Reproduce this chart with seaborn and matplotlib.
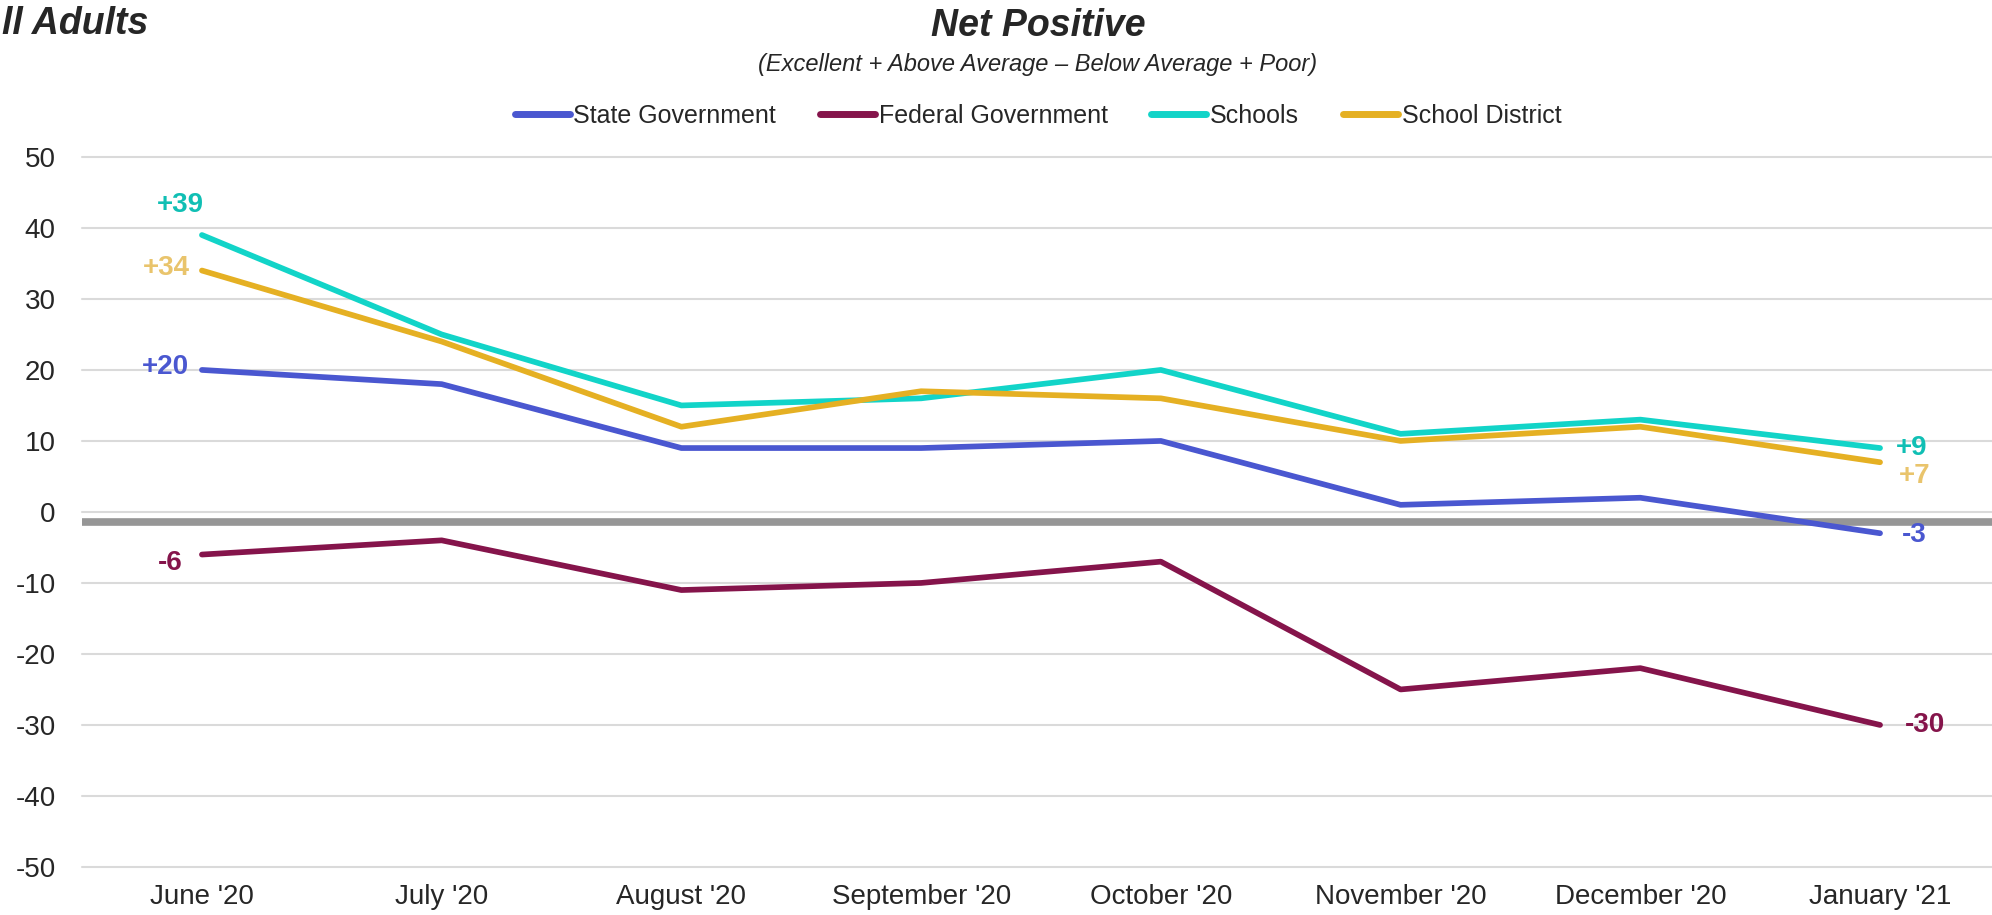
import pandas as pd
import matplotlib.pyplot as plt
import seaborn as sns

months = ["June '20", "July '20", "August '20", "September '20",
          "October '20", "November '20", "December '20", "January '21"]
state_gov = [20, 18, 9, 9, 10, 1, 2, -3]
federal_gov = [-6, -4, -11, -10, -7, -25, -22, -30]
schools = [39, 25, 15, 16, 20, 11, 13, 9]
school_district = [34, 24, 12, 17, 16, 10, 12, 7]
y_ticks = [50, 40, 30, 20, 10, 0, -10, -20, -30, -40, -50]

series = {
    'State Government': state_gov,
    'Federal Government': federal_gov,
    'Schools': schools,
    'School District': school_district,
}
colors = {
    'State Government': '#4a57d0',
    'Federal Government': '#85144b',
    'Schools': '#12d4c8',
    'School District': '#e5b023',
}
label_colors = {
    'State Government': '#4a57d0',
    'Federal Government': '#85144b',
    'Schools': '#10bfb4',
    'School District': '#e9c46c',
}

rows = []
for name, vals in series.items():
    for i, v in enumerate(vals):
        rows.append({'month': i, 'series': name, 'value': v})
df = pd.DataFrame(rows)

sns.set_theme(style='white')
plt.rcParams['font.family'] = ['Liberation Sans', 'DejaVu Sans']
plt.rcParams['axes.unicode_minus'] = False
txt_col = '#262626'

fig = plt.figure(figsize=(19.92, 9.15), dpi=100)
ax = fig.add_axes([0.0412, 0.0525, 0.9588, 0.776])

# grey line just under zero
ax.axhline(-1.4, color='#969696', lw=5.5, zorder=1)

sns.lineplot(data=df, x='month', y='value', hue='series', palette=colors,
             hue_order=list(series.keys()), lw=4.1, ax=ax, legend=True,
             solid_capstyle='round', zorder=3)

ax.set_xlim(-0.5, 7.467)
ax.set_ylim(-50, 50)
ax.set_yticks(y_ticks)
ax.set_xticks(range(len(months)))
ax.set_xticklabels(months)
ax.tick_params(axis='y', labelsize=20, colors=txt_col, length=0, pad=19)
ax.tick_params(axis='x', labelsize=20, colors=txt_col, length=0, pad=12)
ax.grid(axis='y', color='#dadada', lw=1.5, zorder=0)
for gl in ax.get_ygridlines():
    gl.set_clip_on(False)
ax.set_xlabel('')
ax.set_ylabel('')
sns.despine(ax=ax, left=True, bottom=True)

# end labels
def lab(name, idx, dx, dy):
    v = series[name][idx]
    txt = f'+{v}' if v > 0 else f'{v}'
    ax.annotate(txt, (idx, v), xytext=(dx, dy), textcoords='offset pixels',
                ha='center', va='center', fontsize=20, fontweight='bold',
                color=label_colors[name])

lab('Schools', 0, -22, 30)
lab('School District', 0, -36, 3)
lab('State Government', 0, -36, 3)
lab('Federal Government', 0, -32, -8)
lab('Schools', 7, 32, 0)
lab('School District', 7, 35, -14)
lab('State Government', 7, 34, -2)
lab('Federal Government', 7, 45, 0)

handles, labels = ax.get_legend_handles_labels()
ax.get_legend().remove()
leg = fig.legend(handles, labels, loc='center', bbox_to_anchor=(0.521, 0.873),
                 ncol=4, frameon=False, fontsize=18, handlelength=2.2,
                 handletextpad=0.15, columnspacing=1.75)
for line in leg.get_lines():
    line.set_linewidth(5)
for t in leg.get_texts():
    t.set_color(txt_col)

fig.text(0.521, 0.972, 'Net Positive', ha='center', va='center',
         fontsize=27, fontweight='bold', style='italic', color=txt_col)
fig.text(0.521, 0.929, '(Excellent + Above Average \u2013 Below Average + Poor)',
         ha='center', va='center', fontsize=17, style='italic', color=txt_col)
fig.text(0.001, 0.974, 'll Adults', ha='left', va='center',
         fontsize=27, fontweight='bold', style='italic', color=txt_col)

fig.savefig('out.png', dpi=100)
